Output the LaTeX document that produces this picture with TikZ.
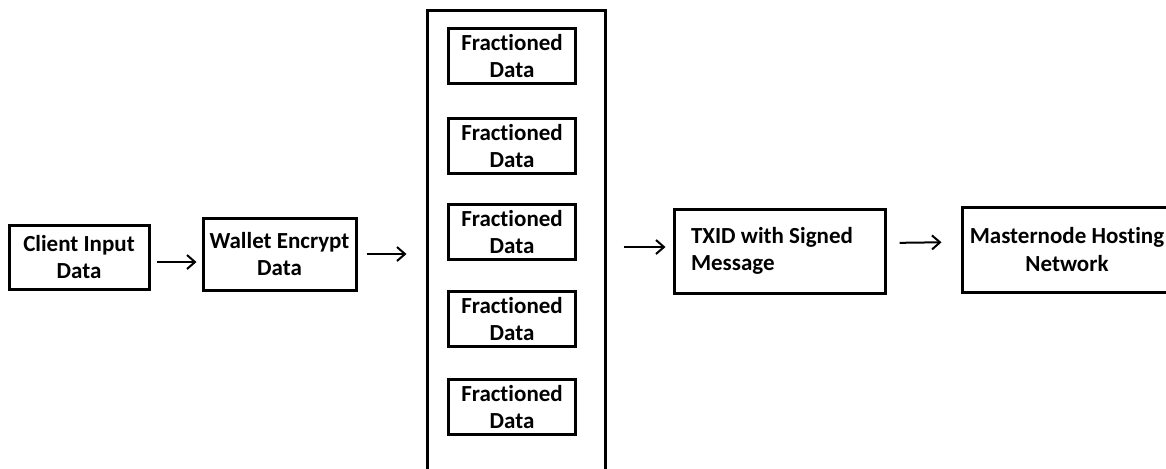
\documentclass[tikz,border=0pt]{standalone}
\usepackage{fontspec}
\setmainfont[Ligatures=NoCommon]{Carlito}
\usetikzlibrary{arrows.meta}

\begin{document}
\begin{tikzpicture}[x=0.5pt,y=-0.5pt,>={Straight Barb[length=4pt,width=7pt]},
  blk/.style={draw, rectangle, line width=1.5pt, inner sep=0pt, align=center,
    font=\bfseries\fontsize{11.5pt}{13.8pt}\selectfont},
  flow/.style={->, line width=1pt}]
  \clip (0,0) rectangle (1166,468);

  \node[blk, minimum width=70pt, minimum height=32pt] (client) at (79,257) {Client Input\\Data};
  \node[blk, minimum width=76.5pt, minimum height=36pt] (wallet) at (279.5,254) {Wallet Encrypt\\Data};

  % container with the fractions
  \node[draw, line width=1.5pt, minimum width=89pt, minimum height=240pt] (frame) at (516,250) {};
  \foreach \yy [count=\i] in {56,146,232,319,407}
    \node[blk, minimum width=63.5pt, minimum height=27.5pt] (frac\i) at (512,\yy) {Fractioned\\Data};

  \node[blk, align=flush left, inner xsep=8.5pt, text width=88.5pt, minimum height=42pt] (txid) at (779.5,251) {TXID with Signed\\Message};
  \node[blk, minimum width=105pt, minimum height=42.5pt] (master) at (1067,249.5) {Masternode Hosting\\Network};

  \coordinate (t4) at ([yshift=2pt]txid.west);
  \draw[flow, shorten <=3pt, shorten >=2.5pt] ([yshift=-2.5pt]client.east) -- ([yshift=-4pt]wallet.west);
  \draw[flow, shorten <=4.5pt, shorten >=9.5pt] (wallet.east) -- (wallet.east -| frame.west);
  \draw[flow, shorten <=8.5pt, shorten >=3.5pt] (t4 -| frame.east) -- (t4);
  \draw[flow, shorten <=6.5pt, shorten >=9.5pt] ([yshift=4pt]txid.east) -- ([yshift=3.75pt]master.west);
\end{tikzpicture}
\end{document}
